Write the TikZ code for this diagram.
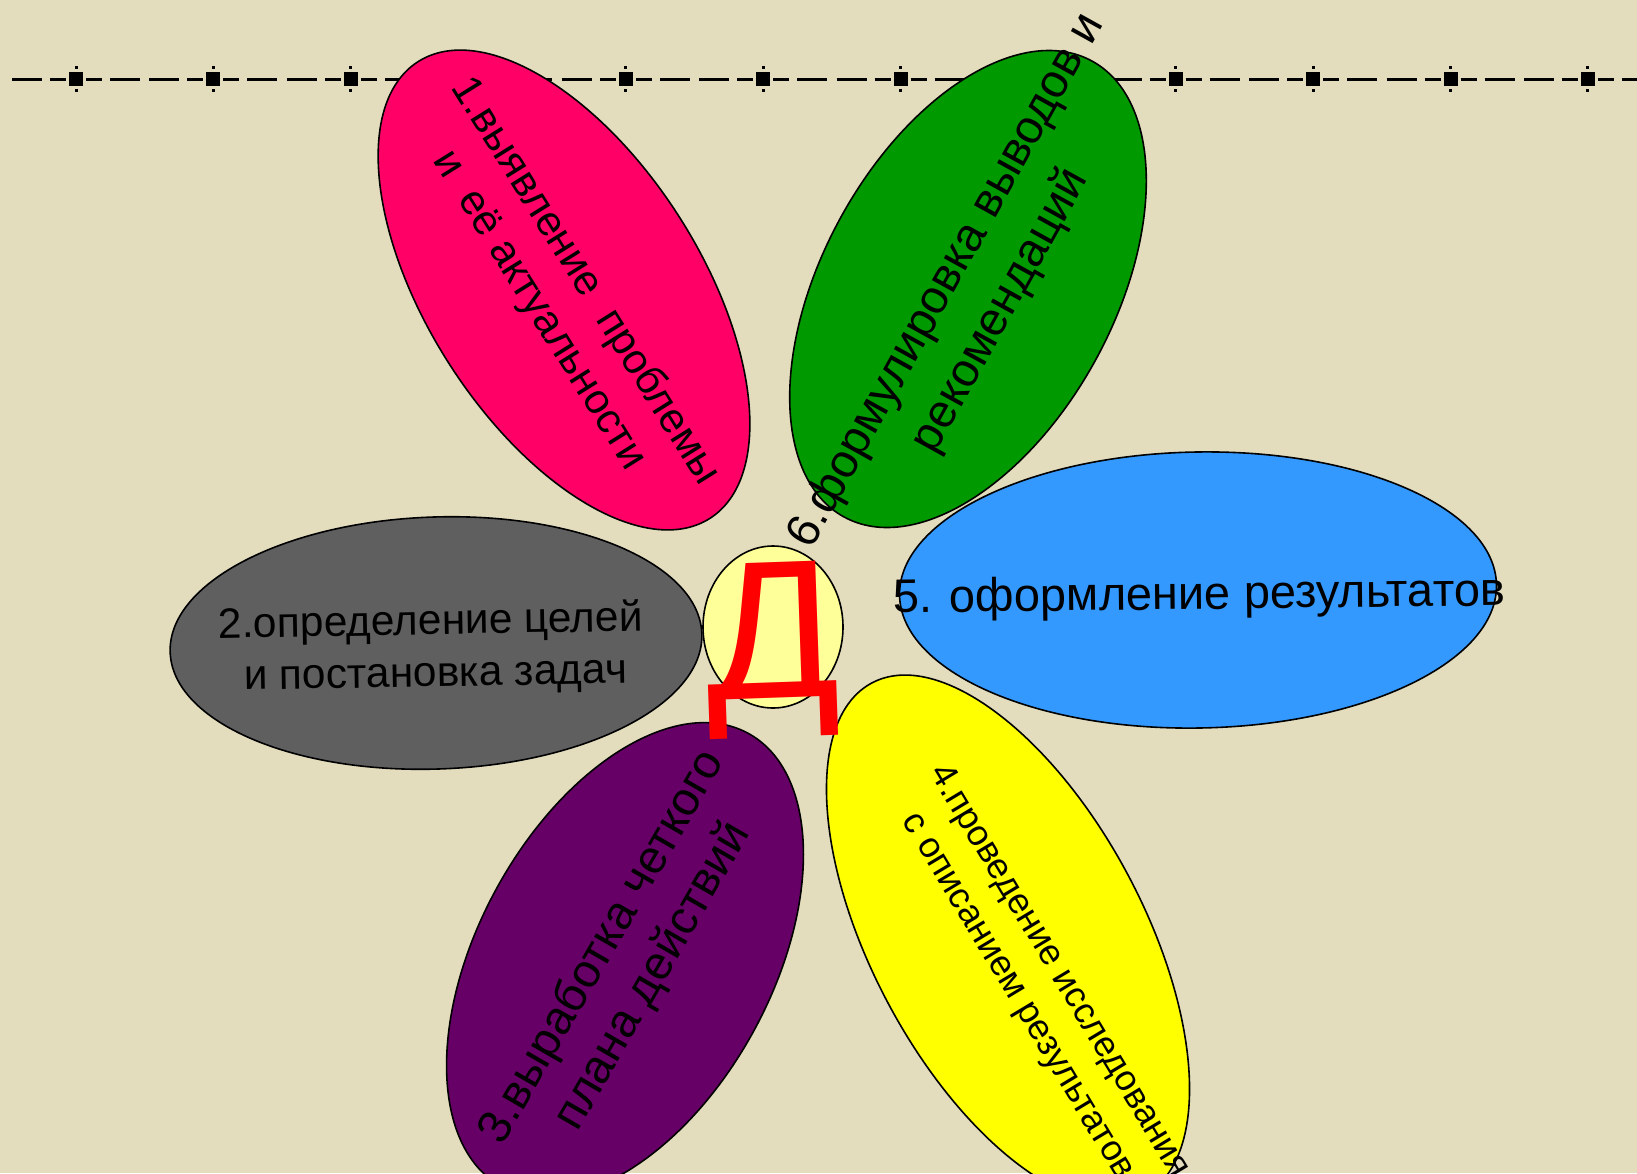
\documentclass[tikz,border=0pt]{standalone}
\usepackage{fontspec}
\setmainfont{Liberation Sans}
\usetikzlibrary{shapes.geometric}
\definecolor{bg}{HTML}{E3DDBD}
\definecolor{pinkc}{HTML}{FF0066}
\definecolor{grayc}{HTML}{5F5F5F}
\definecolor{purplec}{HTML}{660066}
\definecolor{yellowc}{HTML}{FFFF00}
\definecolor{bluec}{HTML}{3399FF}
\definecolor{greenc}{HTML}{009900}
\definecolor{centerc}{HTML}{FFFF99}
\definecolor{redc}{HTML}{FF0000}
\begin{document}
\begin{tikzpicture}[x=1pt,y=1pt,
  petal/.style={ellipse, draw=black, line width=1.6pt, inner sep=0pt, outer sep=0pt},
  ptext/.style={align=center, text=black, inner sep=0pt},
  dseg/.style={line width=3pt, black}]
\fill[bg] (0,0) rectangle (1637,-1173);
\useasboundingbox (0,0) rectangle (1637,-1173);
% dashed marker line
\foreach \k in {0,...,11}{
  \pgfmathsetmacro{\c}{76+137.45*\k}
  \draw[dseg] (\c-64,-79) -- (\c-34,-79);
  \draw[dseg] (\c-26,-79) -- (\c-10,-79);
  \draw[dseg] (\c+10,-79) -- (\c+26,-79);
  \draw[dseg] (\c+34,-79) -- (\c+64,-79);
  \fill[black] (\c-7,-72) rectangle (\c+7,-86);
  \fill[black] (\c-1.5,-65.5) rectangle (\c+1.5,-68.5);
  \fill[black] (\c-1.5,-88.5) rectangle (\c+1.5,-91.5);
}
% petals
\node[petal, fill=pinkc, minimum width=542pt, minimum height=273pt, rotate=-57.4] (p1) at (564,-290) {};
\node[petal, fill=grayc, minimum width=532pt, minimum height=252pt, rotate=2] (p2) at (436,-643) {};
\node[petal, fill=purplec, minimum width=516pt, minimum height=294pt, rotate=61.5] (p3) at (625,-960) {};
\node[petal, fill=yellowc, minimum width=580pt, minimum height=272pt, rotate=-62] (p4) at (1008,-939) {};
\node[petal, fill=bluec, minimum width=597pt, minimum height=276pt, rotate=1] (p5) at (1198,-590) {};
\node[petal, fill=greenc, minimum width=519pt, minimum height=292pt, rotate=61.5] (p6) at (968,-289) {};
\node[petal, fill=centerc, minimum width=140pt, minimum height=162pt] (c) at (773,-627) {};
% texts
\node[ptext, rotate=-58, font=\fontsize{42}{54}\selectfont] (t1) at (562,-296) {1.выявление\ \ проблемы\\и\ \ её актуальности};
\node[ptext, rotate=1, font=\fontsize{42.5}{52}\selectfont] (t2) at (431,-649) {2.определение целей\\\hspace*{0.2em}и постановка задач};
\node[ptext, rotate=60, font=\fontsize{47}{58}\selectfont] (t3) at (628,-962) {3.выработка четкого\\плана действий};
\node[ptext, rotate=-59, font=\fontsize{36}{48}\selectfont] (t4) at (1038,-984) {4.проведение исследования\\с описанием результатов};
\node[ptext, rotate=0.7, font=\fontsize{47}{56}\selectfont] (t5) at (1199,-597) {5. оформление результатов};
\node[ptext, rotate=61, font=\fontsize{47}{62}\selectfont] (t6) at (974,-296) {6.формулировка выводов и\\рекомендаций};
% big letter
\node[text=redc, rotate=2, font=\fontsize{197}{200}\selectfont, inner sep=0pt, anchor=base] (d) at (774,-698) {Д};
\end{tikzpicture}
\end{document}
